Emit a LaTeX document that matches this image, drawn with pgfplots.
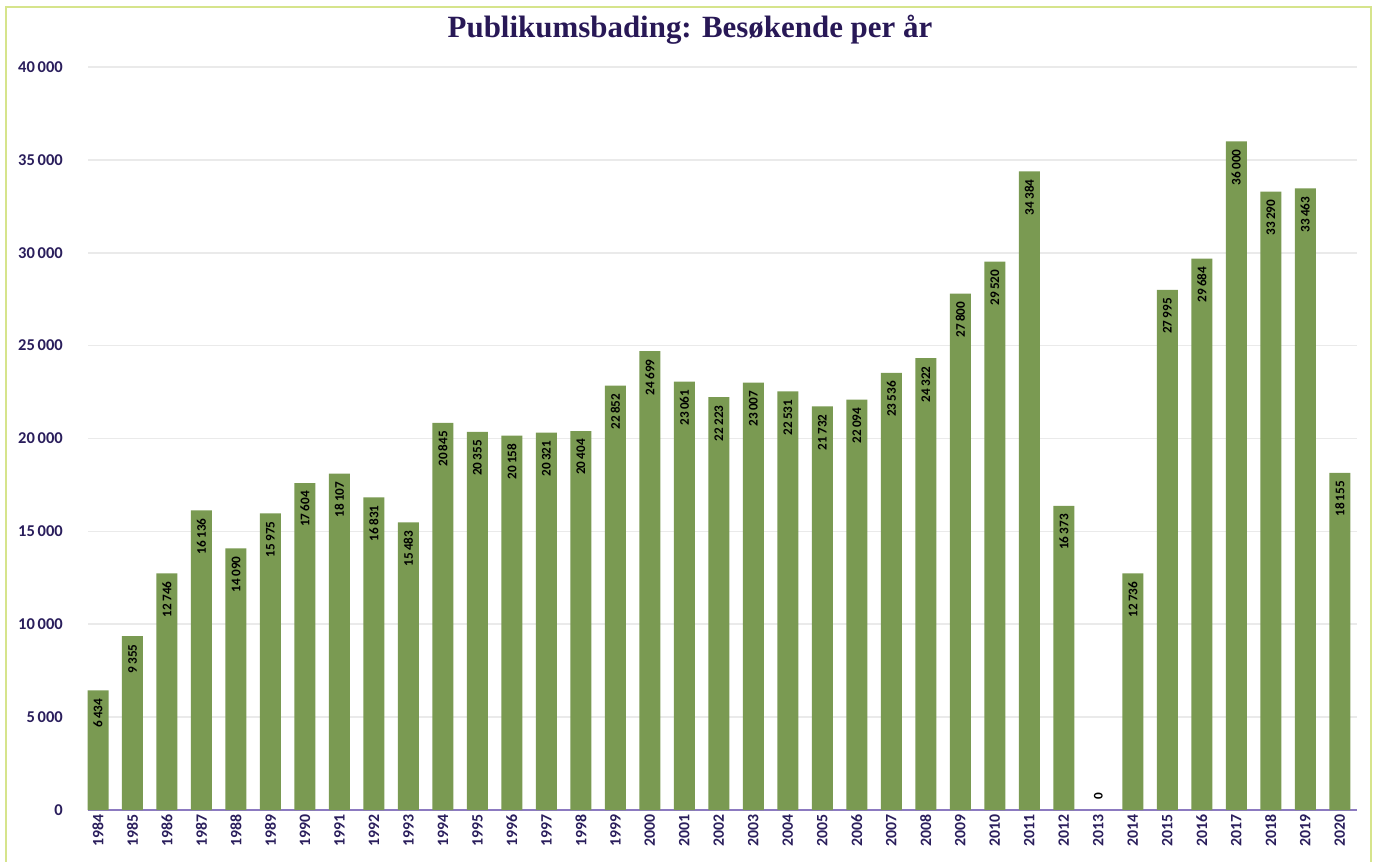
\documentclass[border=0pt]{standalone}
\usepackage{fontspec}
\setmainfont{Carlito}
\newfontfamily\titlefont{Liberation Serif}
\usepackage{pgfplots}
\pgfplotsset{compat=1.18}
\definecolor{bargreen}{RGB}{122,154,82}
\definecolor{ticktext}{RGB}{42,30,92}
\definecolor{titlecolor}{RGB}{40,24,86}
\definecolor{axispurple}{RGB}{140,122,192}
\definecolor{gridgray}{RGB}{234,234,234}
\definecolor{framegreen}{RGB}{214,228,140}
\begin{document}
\begin{tikzpicture}
\useasboundingbox (0,0) rectangle (27.46,17.22);
\draw[framegreen, line width=1.3pt] (0.12,-0.2) -- (0.12,17.08) -- (27.42,17.08) -- (27.42,-0.2);
\node[font=\titlefont\bfseries\fontsize{17.6}{20}\selectfont, text=titlecolor] at (13.8,16.62) {Publikumsbading: Besøkende per år};
\begin{axis}[
  at={(1.76cm,1.02cm)}, anchor=south west,
  scale only axis, width=25.38cm, height=14.86cm,
  xmin=1983.71, xmax=2020.5, ymin=0, ymax=40000,
  enlargelimits=false,
  /pgf/number format/assume math mode=true,
  xtick={1984,...,2020},
  ytick={0,5000,...,40000},
  scaled y ticks=false,
  xticklabel style={/pgf/number format/1000 sep={}, rotate=90, anchor=east, font=\fontsize{9}{10}\selectfont\bfseries, text=ticktext, inner sep=2.5pt},
  yticklabel style={/pgf/number format/1000 sep={\,}, font=\fontsize{9.4}{10}\selectfont\bfseries, text=ticktext, anchor=east, xshift=-0.38cm},
  ymajorgrids, grid style={gridgray, line width=0.9pt},
  axis x line*=bottom, axis y line*=left,
  x axis line style={axispurple, line width=1.4pt},
  y axis line style={draw=none},
  xtick style={draw=none}, ytick style={draw=none},
  major tick length=0pt,
  clip=false,
]
\addplot[ybar, bar width=0.42cm, fill=bargreen, draw=none,
  nodes near coords,
  every node near coord/.append style={rotate=90, anchor=east, font=\fontsize{7.5}{8}\selectfont\bfseries, text=black, inner sep=4.5pt, /pgf/number format/1000 sep={\,}}]
coordinates {
(1984,6434) (1985,9355) (1986,12746) (1987,16136) (1988,14090) (1989,15975)
(1990,17604) (1991,18107) (1992,16831) (1993,15483) (1994,20845) (1995,20355)
(1996,20158) (1997,20321) (1998,20404) (1999,22852) (2000,24699) (2001,23061)
(2002,22223) (2003,23007) (2004,22531) (2005,21732) (2006,22094) (2007,23536)
(2008,24322) (2009,27800) (2010,29520) (2011,34384) (2012,16373)
(2014,12736) (2015,27995) (2016,29684) (2017,36000) (2018,33290) (2019,33463)
(2020,18155)
};
\addplot[draw=none, mark=none, nodes near coords,
  every node near coord/.append style={rotate=90, anchor=west, font=\fontsize{7.5}{8}\selectfont\bfseries, text=black, inner sep=6pt}]
coordinates {(2013,0)};
\end{axis}
\end{tikzpicture}
\end{document}
